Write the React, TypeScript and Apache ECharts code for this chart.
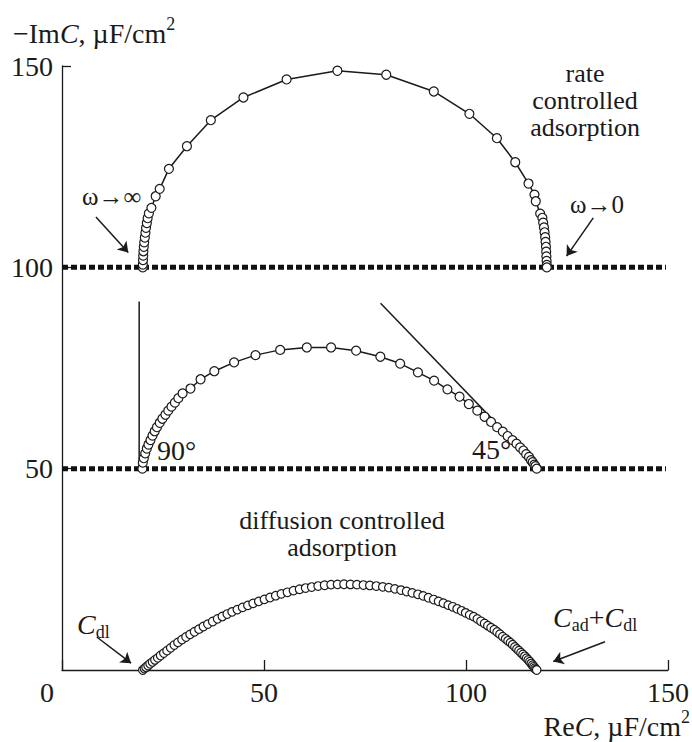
import React, { useEffect, useRef } from 'react';
import * as echarts from 'echarts';

const xTickValues = [0, 50, 100, 150];
const yTickValues = [50, 100, 150];

// rate controlled adsorption (shifted by +100)
const rateControlled: number[][] = [
  [20.0, 100.0], [20.0, 100.7], [20.05, 101.8], [20.1, 102.9], [20.15, 104.0], [20.25, 105.1],
  [20.35, 106.2], [20.5, 107.4], [20.65, 108.6], [20.8, 109.8], [21.0, 111.0], [21.2, 112.2],
  [21.5, 113.4], [22.13, 114.77], [23.19, 117.65], [24.18, 119.49], [26.47, 124.46],
  [30.92, 130.08], [36.84, 136.54], [44.91, 142.18], [55.59, 146.66], [68.17, 148.82],
  [80.26, 147.83], [92.03, 143.67], [100.84, 138.13], [107.65, 132.07], [112.19, 126.1],
  [115.47, 120.81], [116.95, 118.07], [117.27, 116.41], [118.36, 113.35],
  [118.9, 112.3], [119.1, 111.1], [119.3, 109.9], [119.45, 108.7], [119.6, 107.5], [119.7, 106.3],
  [119.8, 105.1], [119.85, 103.9], [119.9, 102.7], [119.95, 101.6], [120.0, 100.6], [120.0, 100.0],
];

// intermediate case (shifted by +50)
const mixedControl: number[][] = [
  [19.9, 50.0], [20.0, 51.5], [20.25, 52.6], [20.6, 53.8], [21.0, 55.0], [21.4, 56.0], [21.9, 57.1],
  [22.4, 58.2], [22.95, 59.3], [23.5, 60.3], [24.2, 61.4], [24.85, 62.4], [25.6, 63.4], [26.3, 64.4],
  [27.1, 65.4], [27.95, 66.4], [28.8, 67.5], [29.85, 68.7], [31.8, 69.9], [34.3, 72.2], [37.7, 74.2],
  [42.6, 76.4], [47.9, 78.2], [54.0, 79.5], [60.6, 80.1], [66.6, 80.1], [72.8, 79.3], [78.8, 77.8],
  [83.7, 76.1], [88.1, 73.9], [92.1, 71.85], [95.4, 69.7], [98.4, 67.9], [100.7, 66.05], [102.8, 64.4],
  [104.6, 62.9], [106.2, 61.6], [107.7, 60.3], [109.1, 59.2], [110.3, 58.1], [111.5, 57.1],
  [112.5, 56.2], [113.4, 55.3], [114.2, 54.5], [114.9, 53.6], [115.6, 52.9], [116.1, 52.1],
  [116.5, 51.6], [116.9, 51.0], [117.2, 50.6], [117.5, 50.0],
];

// diffusion controlled adsorption
const diffusionControlled: number[][] = [
  [20.0, 0.0], [20.4, 0.35], [20.8, 0.7], [21.3, 1.1], [21.8, 1.55], [22.4, 2.0], [23.0, 2.5],
  [23.7, 3.0], [24.4, 3.6], [25.2, 4.2], [26.0, 4.8], [26.9, 5.5], [27.8, 6.2], [28.7, 6.85],
  [29.7, 7.55], [30.7, 8.2], [31.7, 8.85], [32.8, 9.5], [33.9, 10.15], [35.0, 10.8], [36.1, 11.4],
  [37.3, 12.05], [38.5, 12.7], [39.7, 13.3], [40.9, 13.9], [42.1, 14.45], [43.4, 15.0], [44.7, 15.55],
  [46.0, 16.05], [47.3, 16.55], [48.7, 17.05], [50.1, 17.55], [51.5, 18.0], [52.9, 18.45], [54.3, 18.9],
  [55.8, 19.3], [57.3, 19.7], [58.8, 20.05], [60.3, 20.35], [61.8, 20.6], [63.4, 20.85], [65.0, 21.05],
  [66.6, 21.2], [68.2, 21.27], [69.8, 21.3], [71.4, 21.25], [73.0, 21.2], [74.6, 21.1], [76.2, 21.0],
  [77.8, 20.85], [79.4, 20.65], [80.9, 20.45], [82.4, 20.15], [83.9, 19.85], [85.3, 19.5], [86.7, 19.15],
  [88.1, 18.8], [89.4, 18.4], [90.7, 17.95], [92.0, 17.5], [93.2, 17.05], [94.4, 16.6], [95.6, 16.1],
  [96.7, 15.7], [97.8, 15.2], [98.9, 14.7], [99.9, 14.2], [100.9, 13.7], [101.9, 13.25], [102.8, 12.7],
  [103.7, 12.1], [104.6, 11.55], [105.4, 11.0], [106.2, 10.5], [107.0, 10.0], [107.7, 9.45], [108.4, 8.9],
  [109.1, 8.3], [109.8, 7.75], [110.4, 7.25], [111.0, 6.8], [111.55, 6.3], [112.1, 5.75], [112.6, 5.25],
  [113.1, 4.8], [113.6, 4.3], [114.1, 3.85], [114.55, 3.4], [115.0, 2.95], [115.4, 2.5], [115.8, 2.05],
  [116.15, 1.6], [116.5, 1.2], [116.8, 0.8], [117.05, 0.45], [117.3, 0.15], [117.5, 0.0],
];

const baseline100: number[][] = [[0, 100], [149.5, 100]];
const baseline50: number[][] = [[0, 50], [149.5, 50]];
const rightAngleGuide: number[][] = [[19.1, 50], [19.1, 91.5]];
const slopeGuide: number[][] = [[78.85, 91.1], [118.0, 50.4]];
const arrowSegments: number[][][] = [
  [[8.4, 112.5], [16.4, 103.7]],
  [[131.5, 112.3], [124.9, 102.8]],
  [[8.6, 8.2], [17.1, 1.7]],
  [[134.4, 7.0], [121.6, 2.1]],
];

const SERIF = '"Liberation Serif", "DejaVu Serif", serif';
const INK = '#1a1a1a';

const plainText = (x: number, y: number, text: string, extra: any = {}) => ({
  type: 'text',
  x,
  y,
  silent: true,
  style: {
    text,
    fontFamily: SERIF,
    fontSize: 28,
    fill: INK,
    align: 'left',
    verticalAlign: 'middle',
    ...extra,
  },
});

const richTok = (extra: any = {}) => ({ fontFamily: SERIF, fontSize: 28, fill: INK, lineHeight: 36, ...extra });

export default function App() {
  const ref = useRef<HTMLDivElement>(null);
  useEffect(() => {
    if (!ref.current) return;
    const chart = echarts.init(ref.current, undefined, { renderer: 'svg' });
    const markerStyle = { color: '#ffffff', borderColor: INK, borderWidth: 1.2, opacity: 1 };
    const option: any = {
      animation: false,
      backgroundColor: '#ffffff',
      grid: { left: 62, right: 22, top: 66, bottom: 72 },
      xAxis: {
        type: 'value',
        min: 0,
        max: 150,
        interval: 50,
        axisLine: { show: true, lineStyle: { color: INK, width: 1.3 } },
        axisTick: { show: true, inside: true, length: 10, lineStyle: { color: INK, width: 1.3 } },
        splitLine: { show: false },
        axisLabel: {
          showMinLabel: true,
          showMaxLabel: true,
          margin: 8,
          color: INK,
          fontFamily: SERIF,
          fontSize: 28,
          formatter: (v: number) => (v === xTickValues[0] ? '{z|' + v + '}' : String(v)),
          rich: { z: { fontFamily: SERIF, fontSize: 28, color: INK, padding: [0, 30, 0, 0] } },
        },
      },
      yAxis: {
        type: 'value',
        min: 0,
        max: 150,
        interval: 50,
        axisLine: { show: true, lineStyle: { color: INK, width: 1.3 } },
        axisTick: { show: true, inside: true, length: 9, lineStyle: { color: INK, width: 1.3 } },
        splitLine: { show: false },
        axisLabel: {
          showMinLabel: false,
          margin: 9,
          color: INK,
          fontFamily: SERIF,
          fontSize: 28,
          formatter: (v: number) => (yTickValues.indexOf(v) >= 0 ? String(v) : ''),
        },
      },
      series: [
        {
          type: 'line',
          data: baseline100,
          symbol: 'none',
          z: 1,
          silent: true,
          lineStyle: { color: '#111', width: 5, type: [6, 3], cap: 'butt' },
          markLine: {
            silent: true,
            symbol: ['none', 'arrow'],
            symbolSize: 10,
            label: { show: false },
            lineStyle: { color: INK, width: 1.5, type: 'solid' },
            data: arrowSegments.map(([a, b]) => [{ coord: a }, { coord: b }]),
          },
        },
        {
          type: 'line',
          data: baseline50,
          symbol: 'none',
          z: 1,
          silent: true,
          lineStyle: { color: '#111', width: 5, type: [6, 3], cap: 'butt' },
        },
        {
          type: 'line',
          data: rightAngleGuide,
          symbol: 'none',
          z: 1,
          silent: true,
          lineStyle: { color: INK, width: 1.5 },
        },
        {
          type: 'line',
          data: slopeGuide,
          symbol: 'none',
          z: 1,
          silent: true,
          lineStyle: { color: INK, width: 1.5 },
        },
        {
          type: 'line',
          data: rateControlled,
          symbol: 'circle',
          symbolSize: 9,
          showAllSymbol: true,
          z: 3,
          lineStyle: { color: INK, width: 1.5 },
          itemStyle: markerStyle,
        },
        {
          type: 'line',
          data: mixedControl,
          symbol: 'circle',
          symbolSize: 9,
          showAllSymbol: true,
          z: 3,
          lineStyle: { color: INK, width: 1.5 },
          itemStyle: markerStyle,
        },
        {
          type: 'scatter',
          data: diffusionControlled,
          symbol: 'circle',
          symbolSize: 8.5,
          z: 3,
          itemStyle: markerStyle,
        },
      ],
      graphic: [
        {
          type: 'text',
          x: 13,
          y: 33,
          silent: true,
          style: {
            text: '{n|\u2212Im}{i|C}{n|, \u00b5F/cm}{s|2}',
            align: 'left',
            verticalAlign: 'middle',
            rich: {
              n: richTok(),
              i: richTok({ fontStyle: 'italic' }),
              s: richTok({ fontSize: 18, verticalAlign: 'top' }),
            },
          },
        },
        {
          type: 'text',
          x: 690,
          y: 726,
          silent: true,
          style: {
            text: '{n|Re}{i|C}{n|, \u00b5F/cm}{s|2}',
            align: 'right',
            verticalAlign: 'middle',
            rich: {
              n: richTok(),
              i: richTok({ fontStyle: 'italic' }),
              s: richTok({ fontSize: 18, verticalAlign: 'top' }),
            },
          },
        },
        plainText(585, 100.5, 'rate\ncontrolled\nadsorption', { align: 'center', fontSize: 26, lineHeight: 27 }),
        plainText(342, 534, 'diffusion controlled\nadsorption', { align: 'center', fontSize: 26, lineHeight: 27 }),
        plainText(82, 196, '\u03c9\u2192\u221e', { fontSize: 25 }),
        plainText(570, 204, '\u03c9\u21920', { fontSize: 25 }),
        plainText(157, 450.5, '90\u00b0'),
        plainText(472, 449.5, '45\u00b0'),
        {
          type: 'text',
          x: 77,
          y: 624,
          silent: true,
          style: {
            text: '{c|C}{s|dl}',
            align: 'left',
            verticalAlign: 'middle',
            rich: {
              c: richTok({ fontStyle: 'italic', lineHeight: 34 }),
              s: richTok({ fontSize: 18, lineHeight: 34, verticalAlign: 'bottom' }),
            },
          },
        },
        {
          type: 'text',
          x: 553,
          y: 617,
          silent: true,
          style: {
            text: '{c|C}{s|ad}{p|+}{c|C}{s|dl}',
            align: 'left',
            verticalAlign: 'middle',
            rich: {
              c: richTok({ fontStyle: 'italic', lineHeight: 34 }),
              p: richTok({ lineHeight: 34 }),
              s: richTok({ fontSize: 18, lineHeight: 34, verticalAlign: 'bottom' }),
            },
          },
        },
      ],
    };
    chart.setOption(option);
    return () => chart.dispose();
  }, []);
  return (
    <div
      ref={ref}
      style={{ position: 'absolute', left: 0, top: 0, width: 692, height: 742, background: '#fff' }}
    />
  );
}
